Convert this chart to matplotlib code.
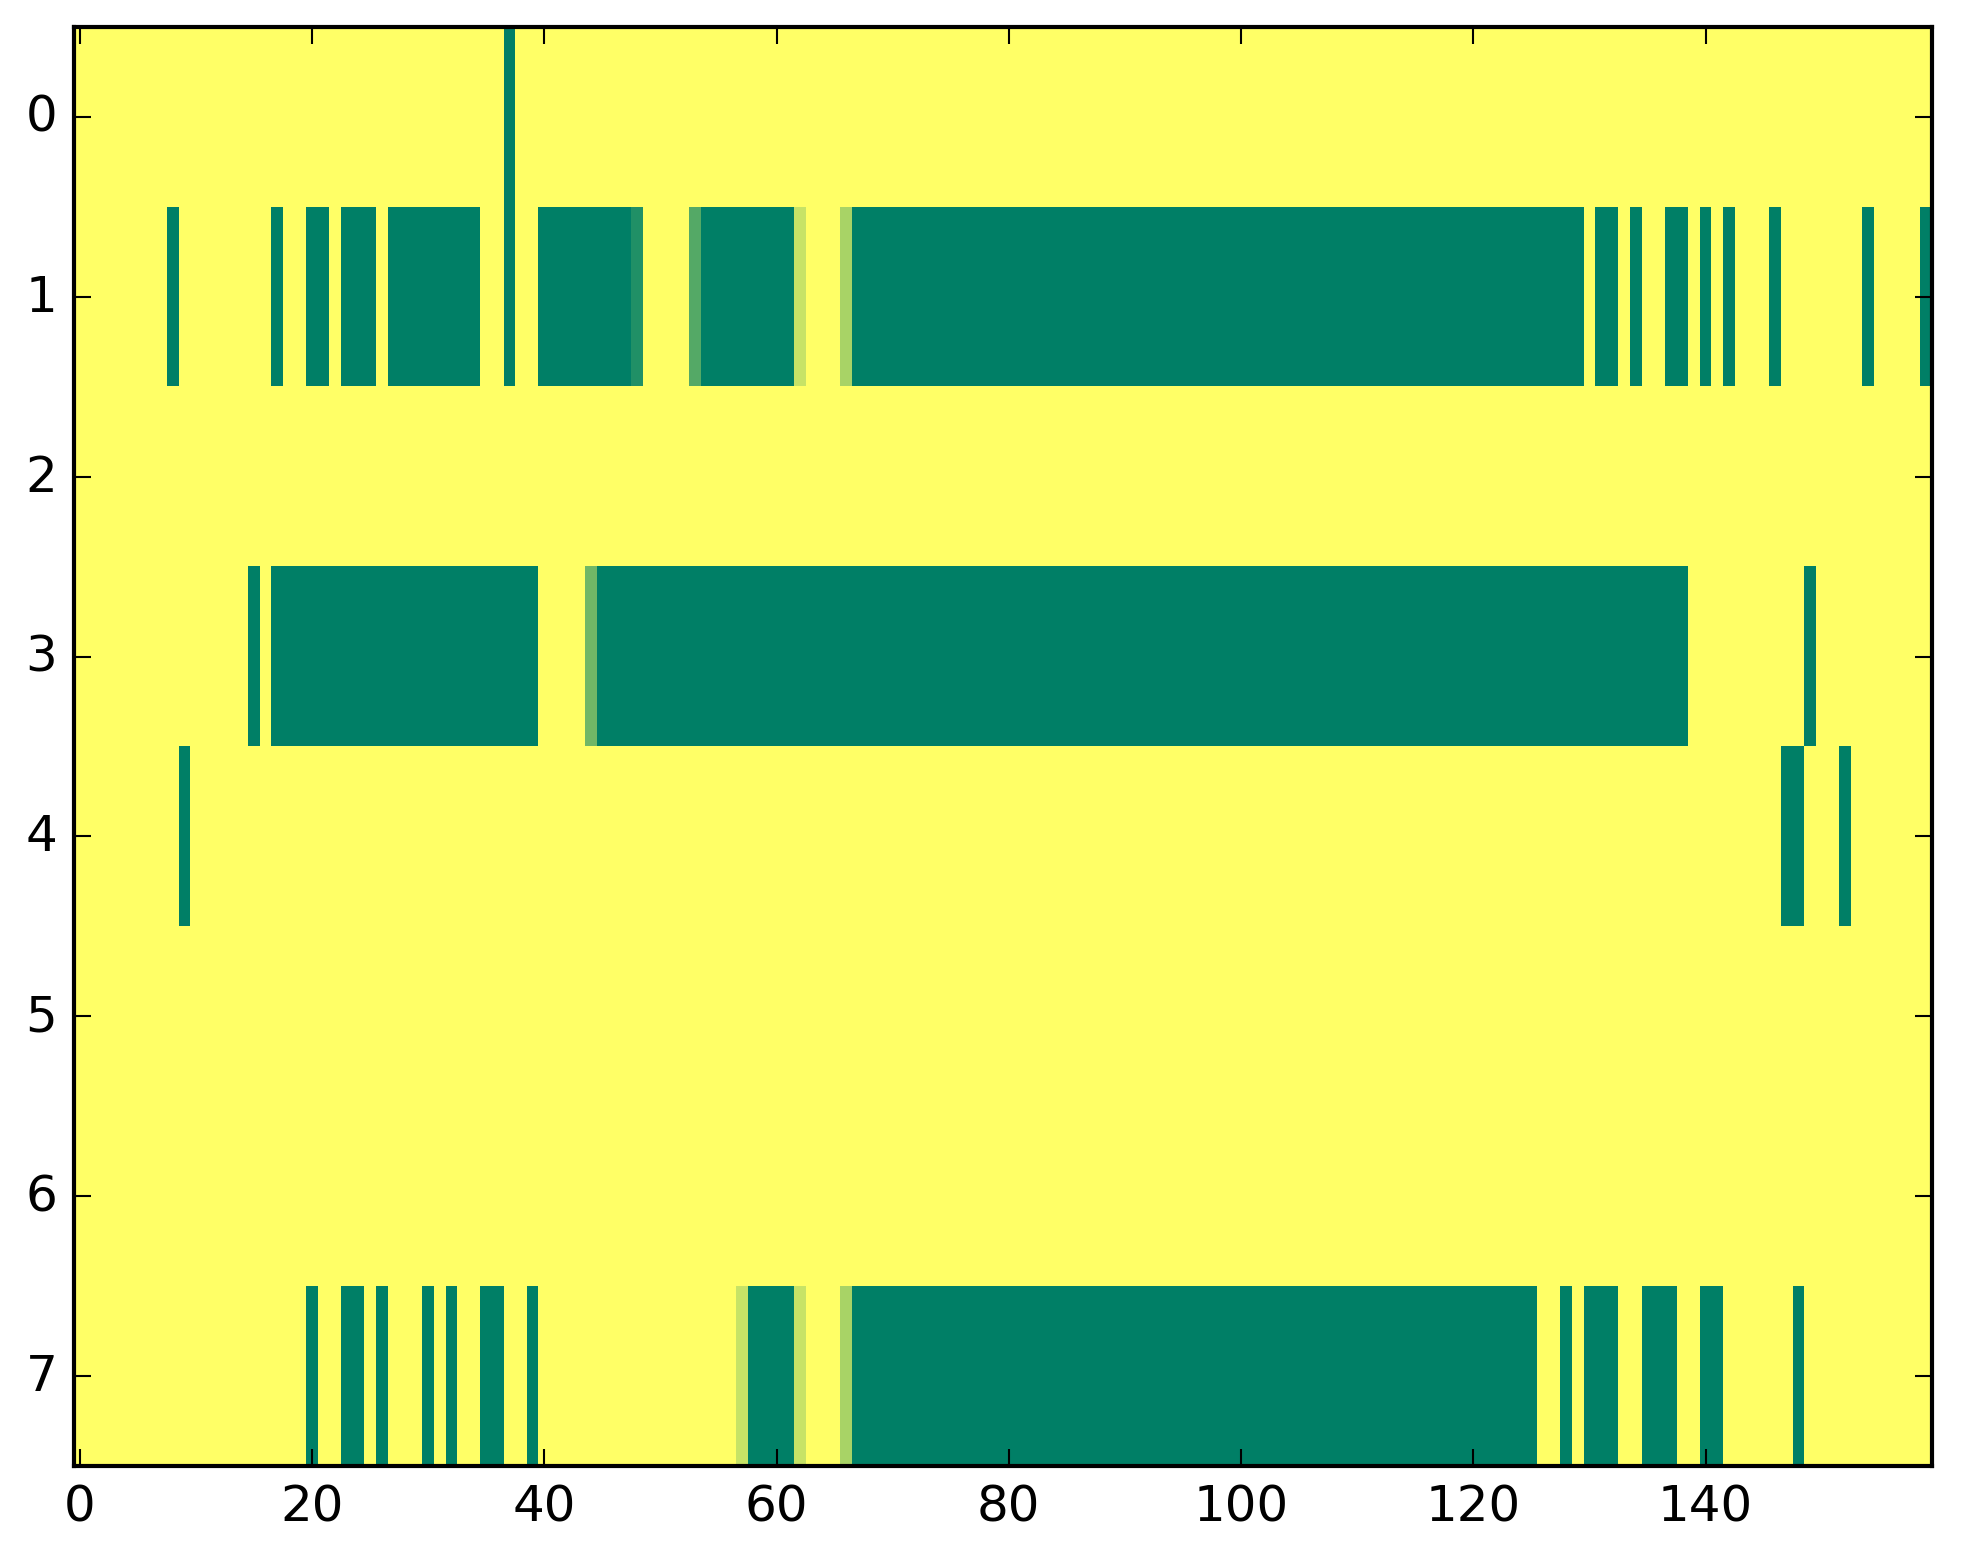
import numpy as np
import matplotlib
matplotlib.use("Agg")
import matplotlib.pyplot as plt

n_rows = 8
n_cols = 160

# runs of full cells (first col, last col), inclusive, per row
row0_runs = [(37, 37)]
row1_runs = [(8, 8), (17, 17), (20, 21), (23, 25), (27, 34), (37, 37), (40, 47),
             (54, 61), (67, 129), (131, 132), (134, 134), (137, 138), (140, 140),
             (142, 142), (146, 146), (154, 154), (159, 159)]
row2_runs = []
row3_runs = [(15, 15), (17, 39), (45, 138), (149, 149)]
row4_runs = [(9, 9), (147, 148), (152, 152)]
row5_runs = []
row6_runs = []
row7_runs = [(20, 20), (23, 24), (26, 26), (30, 30), (32, 32), (35, 36), (39, 39),
             (58, 61), (67, 125), (128, 128), (130, 132), (135, 137), (140, 141),
             (148, 148)]

# cells with in-between values: (row, col, value)
partial_cells = [(1, 48, 0.87), (1, 53, 0.67), (1, 62, 0.22), (1, 66, 0.34),
                 (3, 44, 0.56),
                 (7, 57, 0.22), (7, 62, 0.22), (7, 66, 0.34)]

all_runs = [row0_runs, row1_runs, row2_runs, row3_runs,
            row4_runs, row5_runs, row6_runs, row7_runs]

data = np.zeros((n_rows, n_cols))
for r, runs in enumerate(all_runs):
    for a, b in runs:
        data[r, a:b + 1] = 1.0
for r, c, v in partial_cells:
    data[r, c] = v

plt.style.use("classic")
fig = plt.figure(figsize=(1963 / 300, 1564 / 300), dpi=300)
ax = fig.add_axes([74 / 1963, 1 - 1467 / 1564, (1932 - 74) / 1963, (1467 - 28) / 1564])
ax.imshow(data, cmap="summer_r", vmin=0, vmax=1, aspect="auto", interpolation="nearest")
ax.set_xlim(-0.5, n_cols - 0.5)
ax.set_ylim(n_rows - 0.5, -0.5)
ax.set_xticks(range(0, 160, 20))
ax.set_yticks(range(n_rows))

fig.savefig("out.png", dpi=300)
